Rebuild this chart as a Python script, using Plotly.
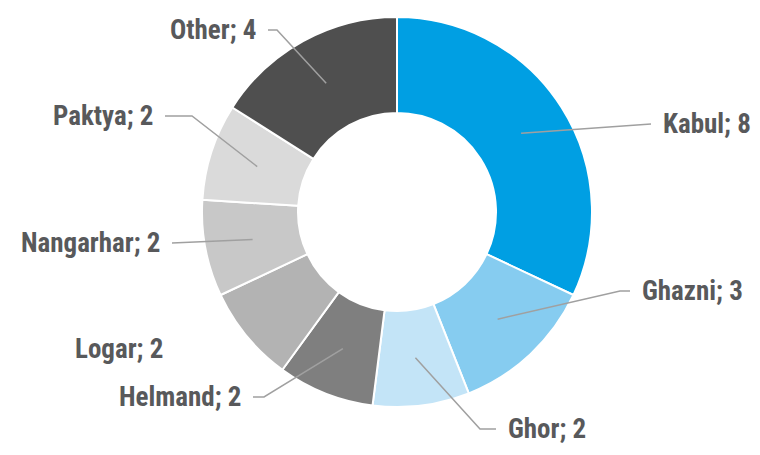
import math
import plotly.graph_objects as go

# ---- data ----
regions = ["Kabul", "Ghazni", "Ghor", "Helmand", "Logar", "Nangarhar", "Paktya", "Other"]
counts = [8, 3, 2, 2, 2, 2, 2, 4]
colors = ["#009FE3", "#86CCF0", "#C3E4F7", "#7F7F7F", "#B3B3B3", "#C8C8C8", "#DADADA", "#4F4F4F"]

# ---- layout settings (screen pixels) ----
OFF = 8                    # page body margin of the html page
W, H = 760 - 2 * OFF, 455 - 2 * OFF
CX, CY = 397, 212          # pie centre
R_OUT, R_IN = 195, 99
R_MID = (R_OUT + R_IN) / 2
# label anchor (x, y, side) and elbow x for leader line (None = straight, "none" = no line)
label_pos = {
    "Kabul":     (661, 124, "left",  None),
    "Ghazni":    (640, 291, "left",  620),
    "Ghor":      (506, 429, "left",  480),
    "Helmand":   (243, 397, "right", 264),
    "Logar":     (165, 349, "right", "none"),
    "Nangarhar": (162, 243, "right", None),
    "Paktya":    (155, 116, "right", 192),
    "Other":     (258, 30,  "right", 277),
}
GAP = 10
TEXT_COLOR = "#58595B"
LINE_COLOR = "#A0A0A0"
FONT = "Roboto Condensed, Liberation Sans, sans-serif"
FONT_SIZE = 27

def px(x):
    return (x - OFF) / W

def py(y):
    return 1 - (y - OFF) / H

fig = go.Figure(go.Pie(
    labels=regions,
    values=counts,
    hole=R_IN / R_OUT,
    sort=False,
    direction="clockwise",
    rotation=0,
    marker=dict(colors=colors, line=dict(color="white", width=2)),
    textinfo="none",
    hoverinfo="label+value",
    domain=dict(x=[px(CX - R_OUT), px(CX + R_OUT)], y=[py(CY + R_OUT), py(CY - R_OUT)]),
    showlegend=False,
))

total = sum(counts)
cum = 0
shapes = []
annotations = []
for name, v in zip(regions, counts):
    mid = 2 * math.pi * (cum + v / 2) / total
    cum += v
    ix = CX + R_MID * math.sin(mid)
    iy = CY - R_MID * math.cos(mid)
    lx, ly, side, elbow = label_pos[name]
    endx = lx - GAP if side == "left" else lx + GAP
    if elbow != "none":
        pts = [(ix, iy)]
        if elbow is not None:
            pts.append((elbow, ly))
        pts.append((endx, ly))
        path = "M " + " L ".join(f"{px(x)},{py(y)}" for x, y in pts)
        shapes.append(dict(type="path", path=path, xref="paper", yref="paper",
                           line=dict(color=LINE_COLOR, width=1.5)))
    annotations.append(dict(
        x=px(lx), y=py(ly), xref="paper", yref="paper",
        text=f"<b>{name}; {v}</b>", showarrow=False,
        xanchor=side, yanchor="middle",
        font=dict(family=FONT, size=FONT_SIZE, color=TEXT_COLOR),
    ))

fig.update_layout(
    width=W, height=H,
    margin=dict(l=0, r=0, t=0, b=0),
    paper_bgcolor="white", plot_bgcolor="white",
    shapes=shapes, annotations=annotations,
)

fig.write_html("out.html")
